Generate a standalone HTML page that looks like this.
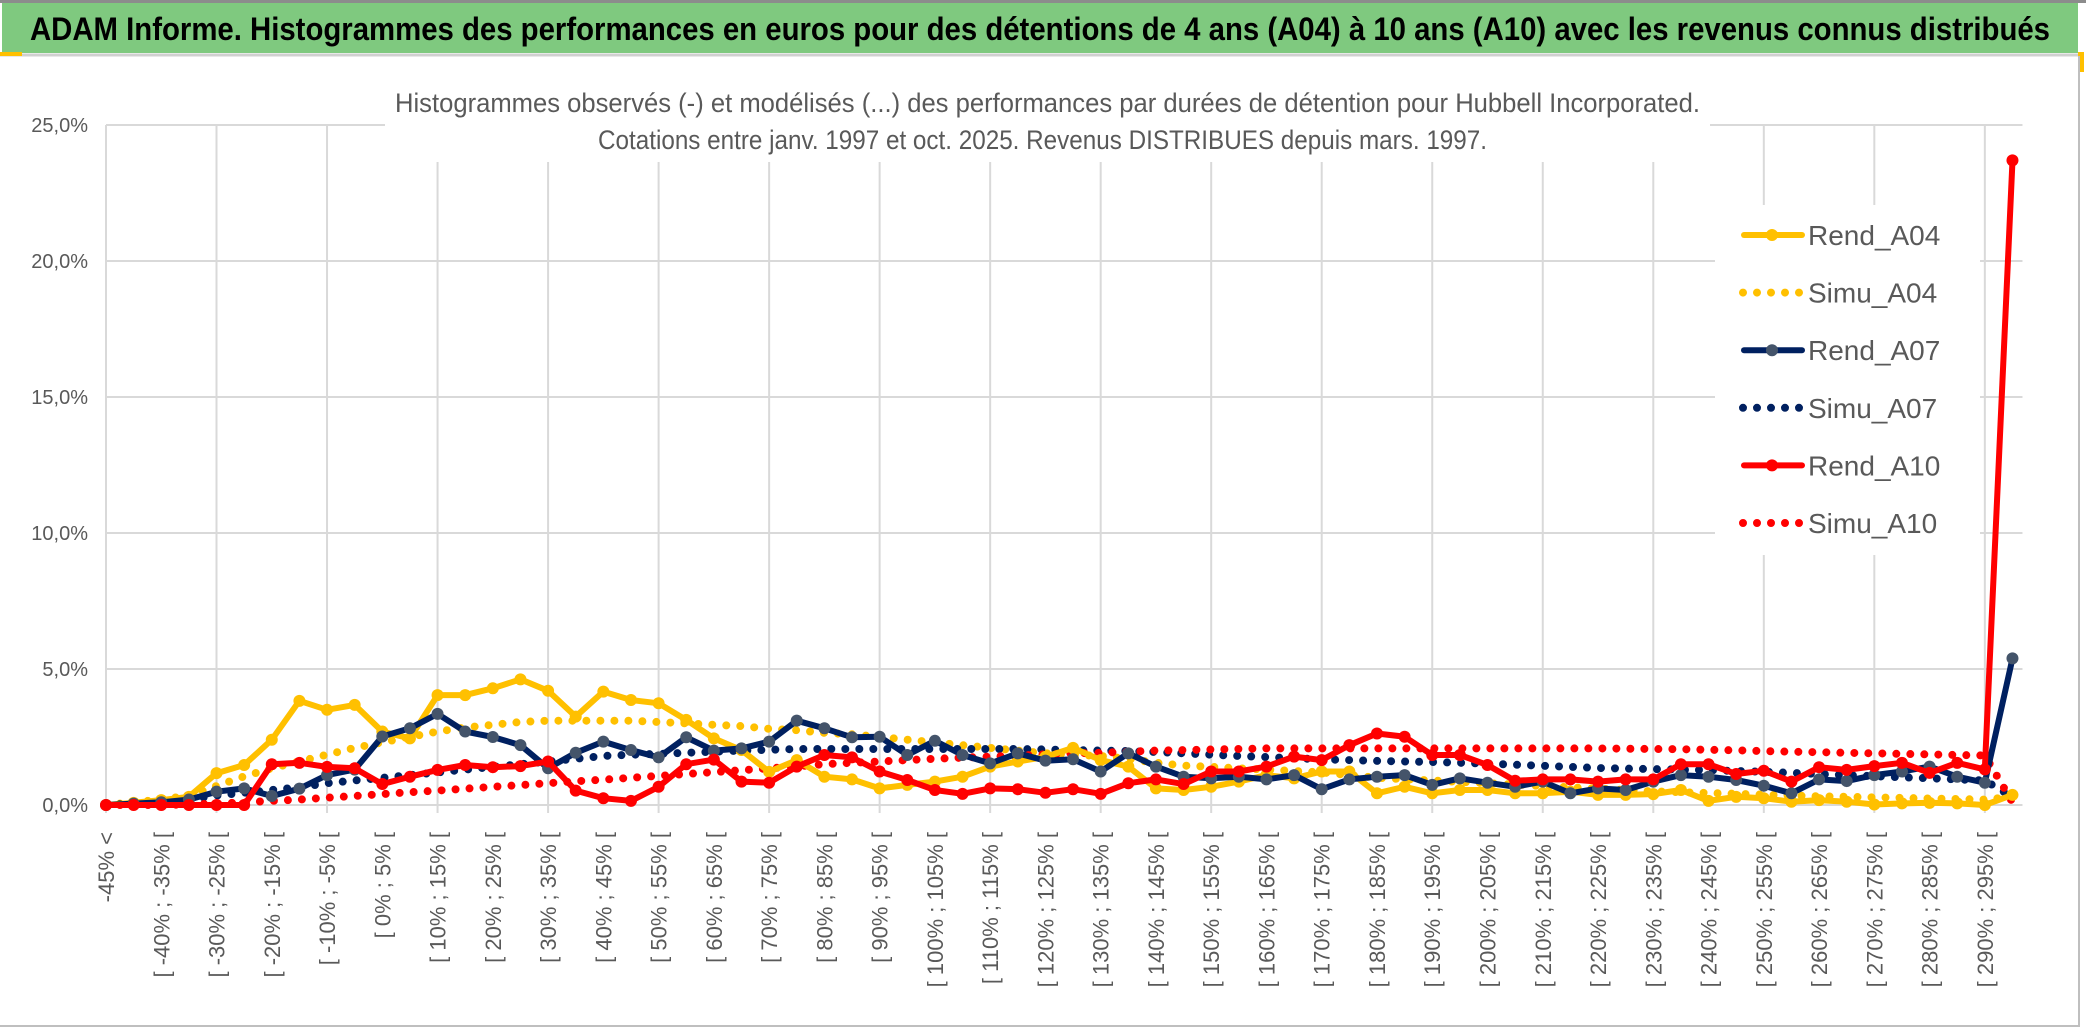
<!DOCTYPE html>
<html><head><meta charset="utf-8"><style>
html,body{margin:0;padding:0;background:#fff;}
svg{display:block;font-family:"Liberation Sans",sans-serif;}
</style></head><body>
<svg id="chart" width="2086" height="1033" viewBox="0 0 2086 1033" xmlns="http://www.w3.org/2000/svg">
<rect x="0" y="0" width="2086" height="1033" fill="#fff"/>
<rect x="2" y="3" width="2076" height="50" fill="#7fc97f"/>
<line x1="0" y1="1.5" x2="2086" y2="1.5" stroke="#8c8c8c" stroke-width="3"/>
<line x1="0" y1="55" x2="2080" y2="55" stroke="#d0d0d0" stroke-width="3"/>
<rect x="0" y="52" width="22" height="4" fill="#ffc000"/>
<rect x="2078" y="52" width="6" height="20" fill="#ffc000"/>
<line x1="2079" y1="56" x2="2079" y2="1027" stroke="#bfbfbf" stroke-width="2"/>
<line x1="0" y1="1026" x2="2080" y2="1026" stroke="#bfbfbf" stroke-width="2"/>
<text x="30" y="40" font-size="32" font-weight="bold" fill="#000" textLength="2020" lengthAdjust="spacingAndGlyphs">ADAM Informe. Histogrammes des performances en euros pour des détentions de 4 ans (A04) à 10 ans (A10) avec les revenus connus distribués</text>
<g id="grid"></g>
<rect x="385" y="80" width="1325" height="82" fill="#fff"/>
<rect x="1715" y="205" width="265" height="350" fill="#fff"/>
<text x="395" y="112" font-size="27" fill="#595959" textLength="1305" lengthAdjust="spacingAndGlyphs">Histogrammes observés (-) et modélisés (...) des performances par durées de détention pour Hubbell Incorporated.</text>
<text x="598" y="149" font-size="27" fill="#595959" textLength="889" lengthAdjust="spacingAndGlyphs">Cotations entre janv. 1997 et oct. 2025. Revenus DISTRIBUES depuis mars. 1997.</text>
<g id="yaxis"></g>
<g id="xaxis"></g>
<g id="series"></g>
<g id="legend"></g>
</svg>
<script>
const categoriesCount = 70;
const yTicks = [0,5,10,15,20,25];
const yTickLabels = ["0,0%","5,0%","10,0%","15,0%","20,0%","25,0%"];
const rendA04 = [0,0.08,0.18,0.3,1.17,1.47,2.4,3.83,3.5,3.68,2.7,2.45,4.04,4.04,4.29,4.62,4.2,3.25,4.17,3.86,3.74,3.13,2.45,2.02,1.22,1.65,1.04,0.94,0.61,0.74,0.86,1.04,1.41,1.6,1.77,2.1,1.65,1.41,0.61,0.55,0.67,0.86,1.1,0.98,1.23,1.23,0.43,0.67,0.43,0.55,0.55,0.43,0.43,0.49,0.37,0.37,0.4,0.55,0.15,0.3,0.25,0.12,0.18,0.12,0.02,0.06,0.08,0.06,0.0,0.37];
const simuA04 = [0,0.1,0.2,0.35,0.7,1.05,1.35,1.6,1.85,2.1,2.3,2.5,2.7,2.85,2.95,3.05,3.1,3.1,3.1,3.1,3.05,3.0,2.95,2.9,2.8,2.75,2.65,2.6,2.5,2.4,2.3,2.2,2.1,2.0,1.9,1.85,1.8,1.7,1.55,1.45,1.4,1.35,1.3,1.25,1.2,1.1,1.0,0.95,0.9,0.85,0.8,0.75,0.7,0.65,0.6,0.55,0.5,0.47,0.44,0.41,0.38,0.35,0.32,0.3,0.28,0.26,0.24,0.22,0.2,0.3];
const rendA07 = [0,0.05,0.1,0.2,0.49,0.61,0.33,0.6,1.1,1.3,2.52,2.82,3.35,2.7,2.5,2.2,1.35,1.92,2.33,2.02,1.75,2.49,2.0,2.08,2.33,3.1,2.82,2.49,2.51,1.84,2.36,1.84,1.53,1.9,1.63,1.68,1.23,1.9,1.41,1.04,0.98,1.04,0.94,1.1,0.58,0.94,1.04,1.1,0.74,0.98,0.82,0.67,0.86,0.43,0.61,0.55,0.86,1.1,1.04,0.92,0.71,0.43,0.94,0.88,1.1,1.23,1.41,1.04,0.82,5.39];
const simuA07 = [0,0.05,0.1,0.2,0.35,0.45,0.55,0.65,0.8,0.9,1.0,1.1,1.2,1.3,1.4,1.5,1.6,1.7,1.8,1.85,1.88,1.92,1.96,2.0,2.03,2.06,2.06,2.06,2.06,2.06,2.06,2.06,2.06,2.06,2.04,2.02,2.0,1.98,1.95,1.9,1.85,1.8,1.76,1.72,1.68,1.65,1.62,1.6,1.58,1.55,1.52,1.48,1.44,1.4,1.36,1.34,1.32,1.3,1.28,1.25,1.22,1.18,1.14,1.1,1.06,1.02,0.98,0.94,0.9,0.3];
const rendA10 = [0,0,0,0,0,0,1.5,1.55,1.4,1.35,0.77,1.04,1.29,1.47,1.39,1.43,1.6,0.53,0.25,0.15,0.67,1.5,1.67,0.86,0.82,1.41,1.84,1.75,1.23,0.92,0.55,0.41,0.61,0.58,0.45,0.58,0.41,0.8,0.94,0.77,1.23,1.23,1.41,1.78,1.65,2.2,2.63,2.51,1.84,1.84,1.47,0.89,0.94,0.94,0.86,0.94,0.94,1.5,1.5,1.14,1.26,0.86,1.39,1.29,1.43,1.55,1.18,1.55,1.31,23.7];
const simuA10 = [0,0,0,0.02,0.05,0.1,0.15,0.2,0.27,0.33,0.4,0.47,0.53,0.6,0.67,0.73,0.8,0.87,0.93,1.0,1.07,1.14,1.21,1.28,1.35,1.42,1.5,1.55,1.6,1.65,1.7,1.74,1.78,1.82,1.86,1.9,1.92,1.96,2.0,2.02,2.04,2.06,2.08,2.08,2.08,2.08,2.08,2.08,2.08,2.08,2.08,2.08,2.08,2.08,2.08,2.07,2.06,2.05,2.03,2.01,1.98,1.96,1.94,1.92,1.9,1.88,1.86,1.84,1.82,0.1];
const legendNames = ["Rend_A04","Simu_A04","Rend_A07","Simu_A07","Rend_A10","Simu_A10"];

const NS = "http://www.w3.org/2000/svg";
const X0 = 106, DX = 27.63, Y0 = 805, PXPCT = 27.2;
function xs(i){ return X0 + DX*i; }
function ys(v){ return Y0 - v*PXPCT; }
function mk(tag, attrs, parent){ const e=document.createElementNS(NS,tag); for(const k in attrs) e.setAttribute(k,attrs[k]); parent.appendChild(e); return e; }
function catLabel(i){
  if(i===0) return "-45% <";
  const a=-45+5*(i-1), b=a+5;
  return "[ "+a+"% ; "+b+"% [";
}
const grid=document.getElementById('grid');
for(let t=0;t<yTicks.length;t++){
  const l=mk('line',{x1:X0,x2:xs(categoriesCount-1)+10,y1:ys(yTicks[t]),y2:ys(yTicks[t]),stroke:'#d9d9d9','stroke-width':2},grid);
  
  
}
for(let i=0;i<categoriesCount;i+=4){
  const l=mk('line',{x1:xs(i),x2:xs(i),y1:ys(25),y2:ys(0)+8,stroke:'#d9d9d9','stroke-width':2},grid);
  
  
}
const yaxis=document.getElementById('yaxis');
for(let t=0;t<yTicks.length;t++){
  const tx=mk('text',{x:88,y:ys(yTicks[t])+7,'text-anchor':'end','font-size':20,fill:'#595959'},yaxis);
  tx.textContent=yTickLabels[t];
  
  
}
const xaxis=document.getElementById('xaxis');
for(let i=0;i<categoriesCount-1;i+=2){
  const tx=mk('text',{transform:'translate('+(xs(i)+8)+',832) rotate(-90)','text-anchor':'end','font-size':22,fill:'#595959'},xaxis);
  tx.textContent=catLabel(i);
  
  
}
const series=document.getElementById('series');
function pts(arr){ return arr.map((v,i)=>xs(i).toFixed(1)+','+ys(v).toFixed(1)).join(' '); }
function simu(arr,color,name){
  const p=mk('polyline',{points:pts(arr),fill:'none',stroke:color,'stroke-width':8,'stroke-linecap':'round','stroke-dasharray':'0 14'},series);
  
  
}
function rend(arr,color,mcolor,name){
  const g=mk('g',{},series);
  
  
  mk('polyline',{points:pts(arr),fill:'none',stroke:color,'stroke-width':6,'stroke-linejoin':'round'},g);
  arr.forEach((v,i)=>{
    const c=mk('circle',{cx:xs(i),cy:ys(v),r:6,fill:mcolor},g);
    
    
  });
}
simu(simuA04,'#ffc000','simu-a04-line');
simu(simuA07,'#002060','simu-a07-line');
simu(simuA10,'#ff0000','simu-a10-line');
rend(rendA04,'#ffc000','#ffc000','rend-a04-line');
rend(rendA07,'#002060','#44546a','rend-a07-line');
rend(rendA10,'#ff0000','#ff0000','rend-a10-line');

const legend=document.getElementById('legend');
const legColors=['#ffc000','#ffc000','#002060','#002060','#ff0000','#ff0000'];
for(let k=0;k<legendNames.length;k++){
  const y=235+57.6*k;
  const g=mk('g',{},legend);
  
  
  if(k%2===0){
    mk('line',{x1:1744,x2:1802,y1:y,y2:y,stroke:legColors[k],'stroke-width':6,'stroke-linecap':'round'},g);
    mk('circle',{cx:1772,cy:y,r:6,fill:k===2?'#44546a':legColors[k]},g);
  } else {
    mk('line',{x1:1743,x2:1800,y1:y,y2:y,stroke:legColors[k],'stroke-width':8,'stroke-linecap':'round','stroke-dasharray':'0 14'},g);
  }
  const tx=mk('text',{x:1808,y:y+10,'font-size':28,fill:'#595959'},g);
  tx.textContent=legendNames[k];
}
</script>
</body></html>
